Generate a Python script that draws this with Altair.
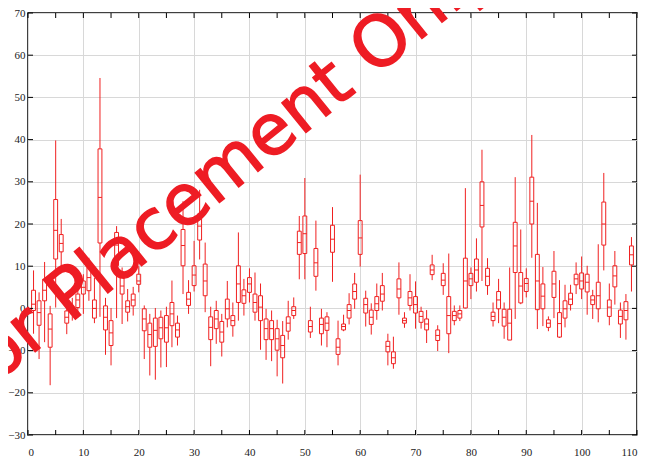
import altair as alt
import pandas as pd

# candle index
k = list(range(1, 110))
# whisker high, box high, median, box low, whisker low
whi = [9.0, 3.8, 11.0, 0.6, 39.8, 21.2, 2.2, 2.5, 5.6, 8.1, 12.0, 7.2, 54.6, 2.5, 0.1, 19.5, 9.7, 4.6, 5.1, 10.0,
       0.7, -1.3, 0.1, -0.5, 0.4, 6.6, -1.7, 25.4, 6.7, 16.0, 28.1, 15.6, 0.4, 1.8, -1.3, 6.5, 1.4, 18.0, 7.0, 9.5,
       8.5, 5.9, -0.1, -0.5, -2.7, -3.0, 1.8, 2.6, 21.9, 30.9, 0.4, 20.8, -0.1, -0.9, 24.0, -2.9, -1.5, 3.6, 8.4, 31.7,
       4.2, 1.2, 5.9, 8.4, -6.0, -6.7, 10.9, -0.9, 8.1, 6.4, 0.4, -0.4, 12.7, -4.0, 10.7, 13.0, 0.7, 0.7, 28.5, 9.7,
       16.6, 37.6, 11.9, 1.4, 7.0, 1.4, 9.7, 31.1, 18.7, 9.5, 41.1, 25.0, 9.8, -1.9, 13.6, 6.7, 5.6, 5.6, 10.9, 12.3,
       10.1, 4.4, 15.2, 32.1, 5.9, 13.6, 1.4, 3.4, 16.9]
bhi = [4.3, 1.8, 6.9, -1.3, 25.8, 17.5, -0.6, 0.1, 3.4, 6.5, 9.7, 2.0, 37.8, 0.6, -2.9, 18.0, 7.3, 1.8, 3.4, 8.1,
       -0.1, -3.5, -2.3, -2.1, -1.7, 1.4, -3.5, 18.7, 3.8, 10.1, 22.4, 10.5, -2.0, -0.5, -3.1, 2.2, -1.7, 10.1, 4.4, 7.3,
       3.4, 3.0, -2.5, -2.9, -4.8, -6.4, -2.0, 0.4, 18.3, 21.9, -2.9, 14.2, -2.3, -2.0, 19.7, -7.2, -3.7, 0.9, 5.8, 20.8,
       2.4, -0.4, 2.8, 5.4, -7.8, -10.3, 7.0, -2.3, 4.0, 2.8, -0.7, -2.5, 10.3, -5.1, 8.3, 2.8, -0.7, -0.5, 11.9, 8.3,
       11.7, 30.0, 9.5, -0.9, 4.0, -0.2, -0.2, 20.4, 8.5, 7.1, 31.1, 12.8, 5.8, -2.7, 8.8, -1.0, 1.8, 3.6, 8.1, 8.4,
       8.1, 3.0, 6.2, 25.2, 2.0, 10.1, -0.4, 1.6, 14.8]
med = [1.0, -1.0, 4.3, -4.9, 18.5, 15.4, -2.1, -0.6, 2.0, 5.0, 7.3, 0.0, 26.3, -2.1, -5.8, 15.0, 5.3, 0.4, 2.0, 6.5,
       -2.5, -6.2, -5.2, -4.6, -4.6, -1.3, -5.1, 14.9, 2.2, 7.9, 19.5, 6.5, -4.5, -2.5, -5.6, -0.1, -2.9, 5.8, 3.0, 5.8,
       1.4, 0.3, -4.8, -4.8, -7.2, -8.8, -3.5, -0.5, 15.6, 17.7, -4.3, 10.8, -3.8, -3.5, 16.4, -9.2, -4.3, -0.5, 4.0, 16.7,
       0.9, -2.1, 1.1, 3.4, -9.0, -11.7, 4.6, -2.9, 2.5, 0.9, -1.9, -3.7, 9.1, -6.4, 6.7, -1.7, -1.7, -1.3, 6.5, 7.0,
       9.1, 24.4, 7.6, -1.9, 2.0, -2.1, -3.5, 14.8, 5.3, 5.9, 25.4, 6.5, 2.9, -3.5, 5.8, -3.6, -0.1, 2.2, 7.0, 6.5,
       6.2, 2.0, 3.0, 20.0, 0.3, 7.7, -1.9, -0.5, 12.7]
blo = [-0.5, -4.0, 1.8, -9.2, 11.7, 13.4, -3.5, -1.3, 0.2, 3.4, 4.2, -2.3, 15.5, -5.1, -8.8, 10.1, 3.4, -0.9, 0.6, 5.7,
       -5.3, -9.2, -9.0, -7.2, -8.0, -4.1, -6.8, 10.1, 0.7, 5.4, 16.2, 3.0, -7.4, -4.8, -8.0, -2.5, -4.1, 1.4, 1.2, 3.8,
       -0.9, -2.9, -7.4, -7.4, -9.9, -11.7, -5.4, -1.7, 12.8, 13.0, -5.6, 7.6, -6.0, -5.2, 13.3, -10.9, -5.1, -2.3, 2.2, 12.8,
       -1.1, -3.8, -0.5, 1.7, -10.3, -13.1, 2.5, -3.5, 0.7, -1.1, -3.3, -5.1, 8.0, -7.6, 5.4, -6.0, -2.9, -2.3, 0.1, 5.4,
       6.2, 19.3, 5.4, -2.9, -0.1, -4.2, -7.5, 8.5, 1.3, 4.0, 20.0, -0.3, -0.1, -4.5, 2.6, -6.8, -2.3, 0.9, 5.6, 4.6,
       3.9, 0.9, -0.1, 15.0, -1.9, 5.1, -3.7, -2.7, 10.3]
wlo = [-6.0, -12.0, -8.0, -18.2, 0.2, 9.9, -6.1, -2.9, -2.1, -1.3, 1.8, -3.5, -2.0, -11.0, -13.5, -2.3, -3.7, -3.1, -1.7, 3.8,
       -12.0, -15.9, -16.9, -14.0, -13.9, -9.2, -8.8, 3.4, -1.3, 4.0, 11.6, -0.9, -13.7, -8.4, -11.4, -4.5, -6.7, -2.9, -1.7, 1.4,
       -2.9, -9.8, -12.2, -12.5, -16.1, -17.8, -7.4, -2.5, 6.9, 6.9, -7.0, 4.2, -8.8, -9.2, 6.3, -13.5, -5.4, -3.8, -0.1, 9.9,
       -4.3, -6.2, -2.7, -0.5, -13.5, -14.3, -1.5, -4.6, -0.5, -4.8, -4.8, -8.2, 6.7, -10.1, 3.2, -10.6, -4.0, -3.0, 0.0, 2.2,
       4.0, 6.5, 3.2, -4.3, -3.5, -7.2, -7.5, -2.5, 1.0, 2.6, 12.0, -4.9, -4.2, -5.4, -2.3, -7.0, -4.5, -0.5, 3.4, 2.2,
       -1.5, -2.5, -3.3, 9.0, -4.0, 0.9, -7.0, -7.4, 4.0]

x_ticks = list(range(0, 111, 5))
y_ticks = list(range(-30, 71, 10))

RED = "#f02020"
W, H = 609, 422

df = pd.DataFrame({"k": k, "whi": whi, "bhi": bhi, "med": med, "blo": blo, "wlo": wlo})

xs = alt.Scale(domain=[0, 110], nice=False, zero=False)
ys = alt.Scale(domain=[-30, 70], nice=False, zero=False)

xaxis = alt.Axis(values=x_ticks, title=None, grid=True, ticks=False, domain=False,
                 labelPadding=11, format="d")
yaxis = alt.Axis(values=y_ticks, title=None, grid=True, ticks=False, domain=False,
                 labelPadding=3, format="d")

base = alt.Chart(df).transform_calculate(xl="datum.k - 0.35", xr="datum.k + 0.35")

upper = base.mark_rule(color=RED, strokeWidth=1).encode(
    x=alt.X("k:Q", scale=xs, axis=xaxis),
    y=alt.Y("bhi:Q", scale=ys, axis=yaxis),
    y2="whi:Q")
lower = base.mark_rule(color=RED, strokeWidth=1).encode(
    x=alt.X("k:Q", scale=xs), y=alt.Y("wlo:Q", scale=ys), y2="blo:Q")
box = base.mark_rect(filled=False, stroke=RED, strokeWidth=1).encode(
    x=alt.X("xl:Q", scale=xs), x2="xr:Q",
    y=alt.Y("blo:Q", scale=ys), y2="bhi:Q")
median = base.mark_rule(color=RED, strokeWidth=1).encode(
    x=alt.X("xl:Q", scale=xs), x2="xr:Q", y=alt.Y("med:Q", scale=ys))

xt = alt.Chart(pd.DataFrame({"v": x_ticks}))
yt = alt.Chart(pd.DataFrame({"v": y_ticks}))
tick_bottom = xt.mark_rule(color="black", strokeWidth=1).encode(
    x=alt.X("v:Q", scale=xs), y=alt.value(H), y2=alt.value(H - 5))
tick_top = xt.mark_rule(color="black", strokeWidth=1).encode(
    x=alt.X("v:Q", scale=xs), y=alt.value(0), y2=alt.value(5))
tick_left = yt.mark_rule(color="black", strokeWidth=1).encode(
    y=alt.Y("v:Q", scale=ys), x=alt.value(0), x2=alt.value(5))
tick_right = yt.mark_rule(color="black", strokeWidth=1).encode(
    y=alt.Y("v:Q", scale=ys), x=alt.value(W - 5), x2=alt.value(W))

wm = alt.Chart(pd.DataFrame({"t": ["For Placement Only"]})).mark_text(
    font="DejaVu Sans", fontSize=70, angle=321, color="#ee1c24",
    stroke="#ee1c24", strokeWidth=1.5,
    align="center", baseline="middle").encode(
    text="t:N", x=alt.value(192), y=alt.value(162))

chart = alt.layer(upper, lower, box, median, tick_bottom, tick_top, tick_left, tick_right, wm).properties(
    width=W, height=H,
    autosize=alt.AutoSizeParams(type="none"),
    padding={"left": 20, "top": 5, "right": 2, "bottom": 25},
).configure_view(stroke="black", strokeWidth=1.5).configure_axis(
    labelFont="Liberation Serif", labelFontSize=11, labelColor="#222222",
    gridColor="#d8d8d8", gridWidth=1)

chart.save("out.html", embed_options={"renderer": "svg", "actions": False})
